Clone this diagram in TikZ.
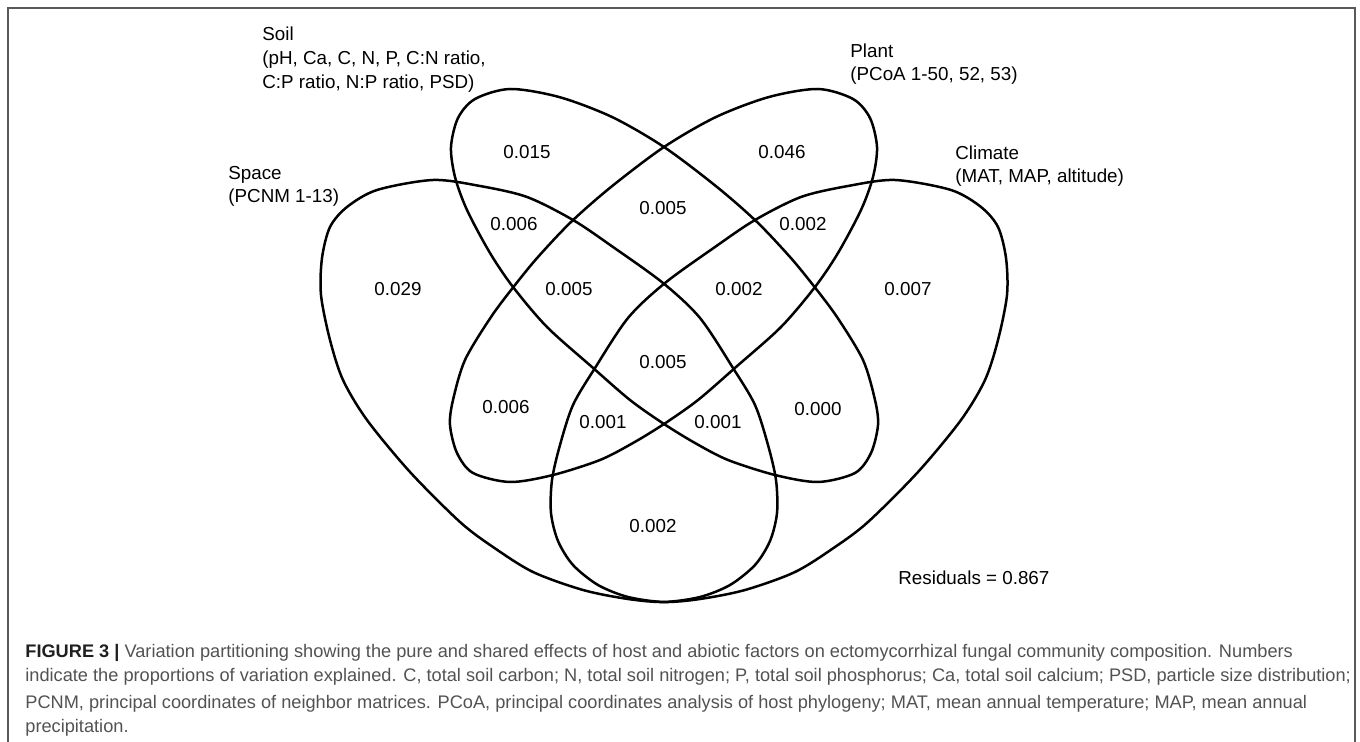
\documentclass[tikz,border=0pt]{standalone}
\usepackage{fontspec}
\setmainfont{Liberation Sans}
\begin{document}
\begin{tikzpicture}[x=0.5pt, y=-0.5pt,
    venn/.style={line width=1.25pt, line join=round},
    val/.style={font=\fontsize{9.4}{11}\selectfont, inner sep=0pt},
    lbl/.style={font=\fontsize{9.4}{11.9}\selectfont, align=left, inner sep=0pt, anchor=north west},
    capline/.style={font=\fontsize{9.1}{12.5}\selectfont, text=black!68, inner sep=0pt, anchor=base west}]
    \useasboundingbox (0,0) rectangle (1360,742);
    \draw[black!65, line width=1pt] (8,750) -- (8,8) -- (1355,8) -- (1355,750);
    % Space/Soil on the left, Climate/Plant as their mirror about x=664
    \foreach \s/\o in {1/0, -1/1328} {
        \begin{scope}[shift={(\o,0)}, xscale=\s]
            \draw[venn] plot[smooth cycle] coordinates {
                (433,180) (480,186) (527,197) (573,220) (613,247) (663,283)
                (700,318) (733,368) (755,405) (768,445) (776,480) (777,513)
                (770,541) (755,565) (730,585) (700,597) (664,602) (628,599)
                (583,590) (533,572) (493,547) (460,522) (410,472) (367,420)
                (343,380) (330,340) (321,295) (322,258) (330,227) (347,207)
                (377,190)};
            \draw[venn] plot[smooth cycle] coordinates {
                (510,89) (559,97) (612,117) (664,147) (717,187) (757,222)
                (790,257) (813,285) (837,317) (863,360) (875,400) (878,425)
                (871,453) (855,473) (818,482) (775,475) (728,460) (695,443)
                (664,424) (630,400) (592,367) (547,327) (513,287) (490,253)
                (467,210) (455,177) (451,147) (458,118) (475,99)};
        \end{scope}
    }
    % set names
    \node[lbl] (soil) at (262,26.5) {Soil\\(pH, Ca, C, N, P, C:N ratio,\\C:P ratio, N:P ratio, PSD)};
    \node[lbl] (plant) at (850,43) {Plant\\(PCoA 1-50, 52, 53)};
    \node[lbl] (space) at (228,165.5) {Space\\(PCNM 1-13)};
    \node[lbl] (climate) at (955,145) {Climate\\(MAT, MAP, altitude)};
    % proportions
    \node[val] (v1) at (527,152) {0.015};
    \node[val] (v2) at (782,152) {0.046};
    \node[val] (v3) at (663,208) {0.005};
    \node[val] (v4) at (514,224) {0.006};
    \node[val] (v5) at (803,224) {0.002};
    \node[val] (v6) at (398,289) {0.029};
    \node[val] (v7) at (569,289) {0.005};
    \node[val] (v8) at (739,289) {0.002};
    \node[val] (v9) at (908,289) {0.007};
    \node[val] (v10) at (663,362) {0.005};
    \node[val] (v11) at (506,407) {0.006};
    \node[val] (v12) at (818,409) {0.000};
    \node[val] (v13) at (603,422) {0.001};
    \node[val] (v14) at (718,422) {0.001};
    \node[val] (v15) at (653,526) {0.002};
    \node[val, anchor=west] (resid) at (898,578) {Residuals = 0.867};
    % caption
    \node[capline] (cap1) at (25,657) {{\color{black!88}\bfseries FIGURE 3 |} Variation partitioning showing the pure and shared effects of host and abiotic factors on ectomycorrhizal fungal community composition. Numbers};
    \node[capline] (cap2) at (25,682) {indicate the proportions of variation explained. C, total soil carbon; N, total soil nitrogen; P, total soil phosphorus; Ca, total soil calcium; PSD, particle size distribution;};
    \node[capline] (cap3) at (25,708) {PCNM, principal coordinates of neighbor matrices. PCoA, principal coordinates analysis of host phylogeny; MAT, mean annual temperature; MAP, mean annual};
    \node[capline] (cap4) at (25,733) {precipitation.};
\end{tikzpicture}
\end{document}
